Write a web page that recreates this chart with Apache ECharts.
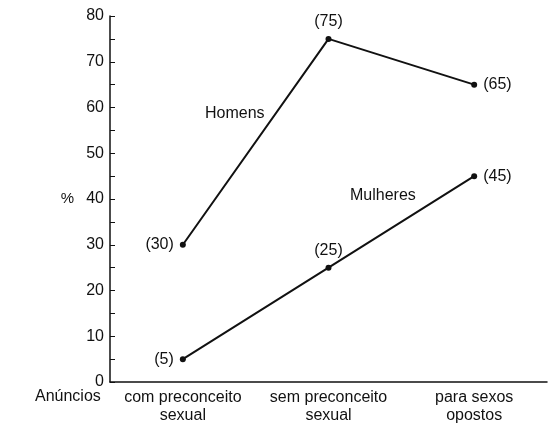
<!DOCTYPE html>
<html>
<head>
<meta charset="utf-8">
<script src="https://cdn.jsdelivr.net/npm/echarts@6/dist/echarts.min.js"></script>
<style>html,body{margin:0;padding:0;background:#fff}#chart{width:553px;height:425px}</style>
</head>
<body>
<div id="chart"></div>
<script>
// categorias (anúncios)
var categorias = ['com preconceito\nsexual', 'sem preconceito\nsexual', 'para sexos\nopostos'];
// valores em %
var homens = [30, 75, 65];
var mulheres = [5, 25, 45];
// posição dos rótulos de cada ponto
var posHomens = ['left', 'top', 'right'];
var posMulheres = ['left', 'top', 'right'];

var fonte = 'Liberation Sans, Arial, sans-serif';
var preto = '#111';

function pontos(valores, posicoes) {
  return valores.map(function (v, i) {
    return { value: v, label: { position: posicoes[i] } };
  });
}

function serie(nome, valores, posicoes) {
  return {
    type: 'line',
    name: nome,
    data: pontos(valores, posicoes),
    symbol: 'circle',
    symbolSize: 6,
    lineStyle: { color: preto, width: 2 },
    itemStyle: { color: preto },
    label: {
      show: true,
      formatter: '({c})',
      color: preto,
      fontFamily: fonte,
      fontSize: 16,
      distance: 6
    },
    animation: false
  };
}

var chart = echarts.init(document.getElementById('chart'));
chart.setOption({
  animation: false,
  grid: { left: 110, right: 6, top: 16, bottom: 41 },
  xAxis: {
    type: 'category',
    data: categorias,
    boundaryGap: true,
    axisLine: { lineStyle: { color: preto, width: 1.5 } },
    axisTick: { alignWithLabel: true, length: 5, inside: true, lineStyle: { color: preto } },
    axisLabel: { interval: 0, hideOverlap: false, color: preto, fontFamily: fonte, fontSize: 16, lineHeight: 18, margin: 7 }
  },
  yAxis: {
    type: 'value',
    min: 0,
    max: 80,
    interval: 10,
    name: '%',
    nameLocation: 'middle',
    nameRotate: 0,
    nameGap: 36,
    nameTextStyle: { color: preto, fontFamily: fonte, fontSize: 15, padding: [0, 0, 16, 0] },
    splitLine: { show: false },
    axisLine: { show: true, lineStyle: { color: preto, width: 1.5 } },
    axisTick: { show: true, inside: true, length: 5, lineStyle: { color: preto } },
    minorTick: { show: true, splitNumber: 2, length: 5, lineStyle: { color: preto } },
    axisLabel: { color: preto, fontFamily: fonte, fontSize: 16, margin: 6 }
  },
  graphic: [
    { type: 'text', x: 35, y: 397, style: { text: 'Anúncios', font: '16px ' + fonte, fill: preto, verticalAlign: 'middle' } },
    { type: 'text', x: 205, y: 114, style: { text: 'Homens', font: '16px ' + fonte, fill: preto, verticalAlign: 'middle' } },
    { type: 'text', x: 350, y: 196, style: { text: 'Mulheres', font: '16px ' + fonte, fill: preto, verticalAlign: 'middle' } }
  ],
  series: [
    serie('Homens', homens, posHomens),
    serie('Mulheres', mulheres, posMulheres)
  ]
});
</script>
</body>
</html>
